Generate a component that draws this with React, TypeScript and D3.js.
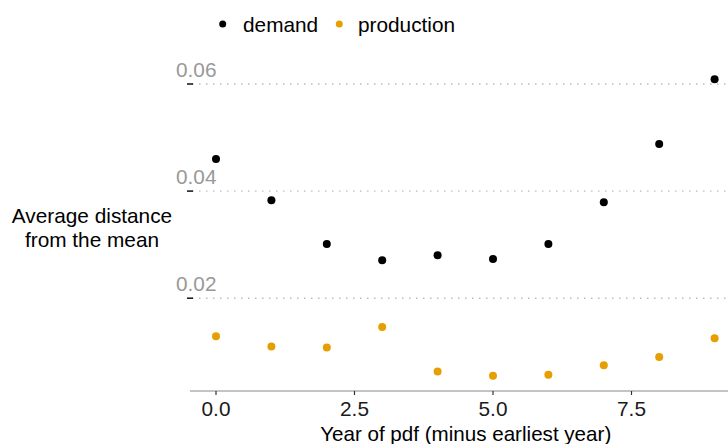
import React from "react";
import * as d3 from "d3";

const years = [0, 1, 2, 3, 4, 5, 6, 7, 8, 9];
const demand = [0.046, 0.0383, 0.0301, 0.0271, 0.028, 0.0273, 0.0301, 0.0379, 0.0488, 0.0609];
const production = [0.0129, 0.011, 0.0108, 0.0146, 0.0063, 0.0055, 0.0057, 0.0075, 0.009, 0.0125];
const yTicks = [0.02, 0.04, 0.06];
const xTicks = [0, 2.5, 5, 7.5];
const seriesNames = ["demand", "production"];
const colors = ["#000000", "#E69F00"];

const W = 728;
const H = 444;

export default function App() {
  const x = d3.scaleLinear().domain([0, 9]).range([216, 714.6]);
  const y = d3.scaleLinear().domain([0, 0.06]).range([405.3, 84]);
  const fmtX = d3.format(".1f");
  const fmtY = d3.format(".2f");
  const font = "Liberation Sans, Arial, sans-serif";
  const series = [demand, production];
  const fs = 20.8;

  return (
    <svg width={W} height={H} style={{ position: "absolute", left: 0, top: 0, background: "#fff" }} fontFamily={font}>
      {/* gridlines */}
      {yTicks.map((t) => (
        <g key={"g" + t}>
          <line x1={192} x2={W} y1={y(t)} y2={y(t)} stroke="#bdbdbd" strokeWidth={1.4} strokeDasharray="1.5 5.5" />
          <line x1={187} x2={193} y1={y(t)} y2={y(t)} stroke="#111" strokeWidth={1.5} />
          <text x={176} y={y(t) - 7} fontSize={fs} fill="#999">{fmtY(t)}</text>
        </g>
      ))}
      {/* x axis */}
      <line x1={190} x2={W} y1={391} y2={391} stroke="#8a8a8a" strokeWidth={1.2} />
      {xTicks.map((t) => (
        <g key={"x" + t}>
          <line x1={x(t)} x2={x(t)} y1={391} y2={395} stroke="#333" strokeWidth={1.2} />
          <text x={x(t)} y={416} fontSize={fs} fill="#1a1a1a" textAnchor="middle">{fmtX(t)}</text>
        </g>
      ))}
      <text x={465.7} y={441} fontSize={20.6} fill="#000" textAnchor="middle">Year of pdf (minus earliest year)</text>
      <text x={92} y={223} fontSize={fs} fill="#000" textAnchor="middle">Average distance</text>
      <text x={92} y={247} fontSize={fs} fill="#000" textAnchor="middle">from the mean</text>
      {/* points */}
      {series.map((s, si) =>
        s.map((v, i) => (
          <circle key={si + "-" + i} cx={x(years[i])} cy={y(v)} r={4} fill={colors[si]} />
        ))
      )}
      {/* legend */}
      <circle cx={222.7} cy={24} r={3.5} fill={colors[0]} />
      <text x={243} y={31.5} fontSize={fs} fill="#000">{seriesNames[0]}</text>
      <circle cx={339.3} cy={24} r={3.5} fill={colors[1]} />
      <text x={358} y={31.5} fontSize={fs} fill="#000">{seriesNames[1]}</text>
    </svg>
  );
}
